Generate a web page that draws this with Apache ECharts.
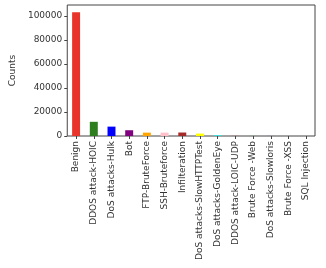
<!DOCTYPE html>
<html>
<head>
<meta charset="utf-8">
<script src="https://cdn.jsdelivr.net/npm/echarts@6/dist/echarts.min.js"></script>
<style>
  html, body { margin: 0; padding: 0; background: #fff; }
  #chart { width: 326px; height: 268px; }
</style>
</head>
<body>
<div id="chart"></div>
<script>
var categories = ['Benign', 'DDOS attack-HOIC', 'DoS attacks-Hulk', 'Bot', 'FTP-BruteForce',
    'SSH-Bruteforce', 'Infilteration', 'DoS attacks-SlowHTTPTest', 'DoS attacks-GoldenEye',
    'DDOS attack-LOIC-UDP', 'Brute Force -Web', 'DoS attacks-Slowloris', 'Brute Force -XSS', 'SQL Injection'];
var counts = [103000, 11800, 7800, 4800, 2800, 2800, 2900, 2000, 500, 60, 40, 30, 15, 5];
var barColors = ['#e8342a', '#2e7d1f', 'blue', 'purple', 'orange', 'pink', 'brown', 'yellow', 'cyan',
    'red', 'green', 'blue', 'purple', 'orange'];
var yTicks = [0, 20000, 40000, 60000, 80000, 100000];

var chart = echarts.init(document.getElementById('chart'));

var option = {
    animation: false,
    textStyle: { fontFamily: 'DejaVu Sans' },
    grid: {
        left: 59, right: 11, top: 5, bottom: 132,
        show: true, borderColor: '#444', borderWidth: 1, backgroundColor: 'transparent'
    },
    xAxis: {
        type: 'category',
        data: categories,
        axisLine: { show: false },
        axisTick: { show: true, alignWithLabel: true, length: 3, lineStyle: { color: '#444' } },
        axisLabel: { rotate: 90, interval: 0, fontSize: 9, color: '#333', margin: 5 }
    },
    yAxis: {
        type: 'value',
        min: 0,
        max: 109000,
        interval: 20000,
        name: 'Counts',
        nameLocation: 'middle',
        nameGap: 49,
        nameTextStyle: { fontSize: 9, color: '#333' },
        splitLine: { show: false },
        axisLine: { show: false },
        axisTick: { show: true, length: 3, lineStyle: { color: '#444' } },
        axisLabel: {
            fontSize: 9, color: '#333', margin: 5,
            showMaxLabel: false,
            formatter: function (v) { return yTicks.indexOf(v) >= 0 ? String(v) : ''; }
        }
    },
    series: [{
        type: 'bar',
        barWidth: '45%',
        data: counts.map(function (v, i) {
            return { value: v, itemStyle: { color: barColors[i] } };
        })
    }]
};

chart.setOption(option);
</script>
</body>
</html>
